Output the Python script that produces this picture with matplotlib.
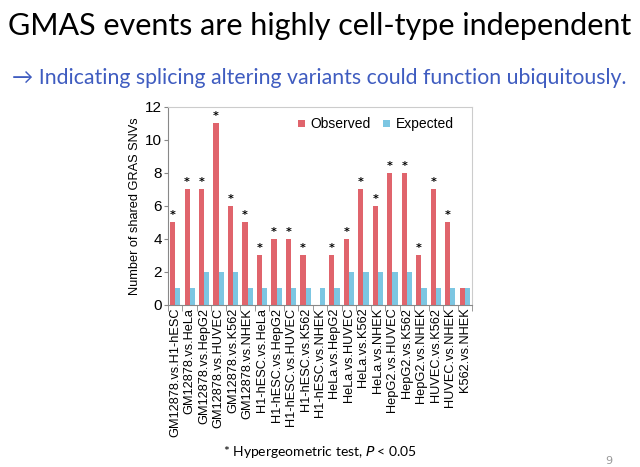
import matplotlib
matplotlib.use('Agg')
import matplotlib.pyplot as plt
import numpy as np

pairs = ['GM12878.vs.H1-hESC', 'GM12878.vs.HeLa', 'GM12878.vs.HepG2', 'GM12878.vs.HUVEC',
	'GM12878.vs.K562', 'GM12878.vs.NHEK', 'H1-hESC.vs.HeLa', 'H1-hESC.vs.HepG2',
	'H1-hESC.vs.HUVEC', 'H1-hESC.vs.K562', 'H1-hESC.vs.NHEK', 'HeLa.vs.HepG2',
	'HeLa.vs.HUVEC', 'HeLa.vs.K562', 'HeLa.vs.NHEK', 'HepG2.vs.HUVEC', 'HepG2.vs.K562',
	'HepG2.vs.NHEK', 'HUVEC.vs.K562', 'HUVEC.vs.NHEK', 'K562.vs.NHEK']
observed = [5, 7, 7, 11, 6, 5, 3, 4, 4, 3, 0, 3, 4, 7, 6, 8, 8, 3, 7, 5, 1]
expected = [1, 1, 2, 2, 2, 1, 1, 1, 1, 1, 1, 1, 2, 2, 2, 2, 2, 1, 1, 1, 1]
significant = [1, 1, 1, 1, 1, 1, 1, 1, 1, 1, 0, 1, 1, 1, 1, 1, 1, 1, 1, 1, 0]

red = '#e0646c'
blue = '#7cc6e2'

fig = plt.figure(figsize=(6.4, 4.67), dpi=100)
fig.patch.set_facecolor('white')

fig.text(0.5, 0.945, 'GMAS events are highly cell-type independent',
	ha='center', va='center', fontsize=22, family='Lato', color='black')
fig.text(0.498, 0.833, '\u2192 Indicating splicing altering variants could function ubiquitously.',
	ha='center', va='center', fontsize=15.3, family='Lato', color='#3f5cc0')
fig.text(0.5, 0.032, '* Hypergeometric test, $\\it{P}$ < 0.05',
	ha='center', va='center', fontsize=10, family='Lato', color='black')
fig.text(0.952, 0.012, '9', ha='center', va='center', fontsize=8, color='#999999')

ax = fig.add_axes([0.2625, 0.347, 0.475, 0.424])
x = np.arange(len(pairs))
w = 0.36
ax.bar(x - w/2, observed, w, color=red, label='Observed')
ax.bar(x + w/2, expected, w, color=blue, label='Expected')
for i in range(len(pairs)):
	if significant[i]:
		ax.text(x[i] - w/2, observed[i] + 0.12, '*', ha='center', va='bottom',
			fontsize=8, fontweight='bold', color='black')

ax.set_xlim(-0.5, len(pairs) - 0.5)
ax.set_ylim(0, 12)
ax.set_yticks(range(0, 13, 2))
ax.set_xticks(x)
ax.set_xticklabels(pairs, rotation=90, fontsize=9.2, family='Liberation Sans')
ax.set_xticks(np.arange(-0.5, len(pairs), 1), minor=True)
ax.tick_params(axis='x', which='major', length=0, pad=2)
ax.tick_params(axis='x', which='minor', length=4, direction='out', color='#888888')
ax.tick_params(axis='y', labelsize=11, length=3, direction='out', color='#888888', pad=1.5)
for lab in ax.get_yticklabels():
	lab.set_family('Liberation Sans')
ax.set_ylabel('Number of shared GRAS SNVs', fontsize=9.2, family='Liberation Sans', labelpad=3)

for side in ['top', 'right']:
	ax.spines[side].set_color('#cccccc')
	ax.spines[side].set_linewidth(0.8)
ax.spines['left'].set_color('#888888')
ax.spines['bottom'].set_color('#888888')

ax.legend(loc='upper right', frameon=False, ncol=2, handlelength=0.5,
	handleheight=0.5, handletextpad=0.4, columnspacing=0.9,
	prop={'family': 'Liberation Sans', 'size': 10}, bbox_to_anchor=(0.98, 1.01))

fig.savefig('out.png', dpi=100)
